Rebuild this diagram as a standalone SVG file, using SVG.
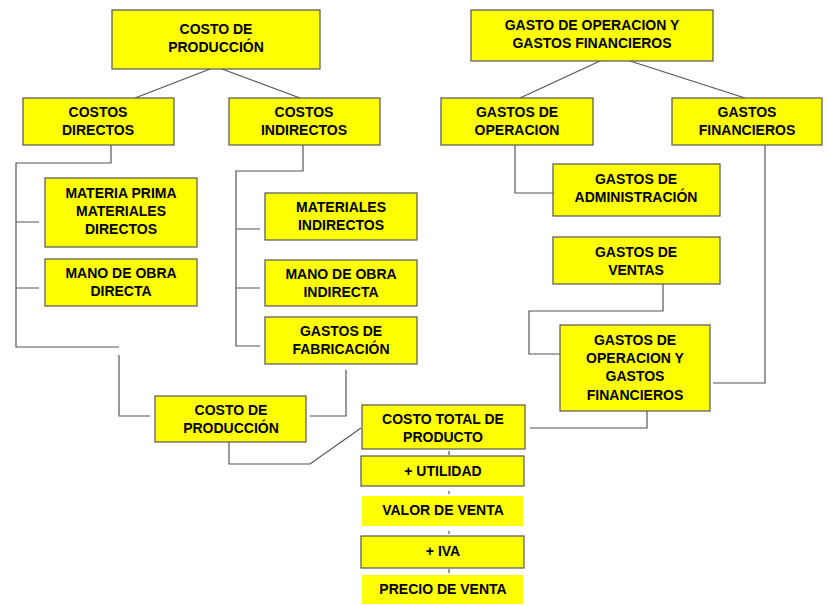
<svg xmlns="http://www.w3.org/2000/svg" width="828" height="605" viewBox="0 0 828 605">
<style>
.b{fill:#ffff00;stroke:#555;stroke-width:1.2}
.n{fill:#ffff00}
text{font-family:"Liberation Sans",Arial,sans-serif;font-weight:bold;font-size:14px;text-anchor:middle;fill:#000}
#c path{fill:none;stroke:#555;stroke-width:1.2}
</style>
<rect width="828" height="605" fill="#fff"/>
<g id="c">
<path d="M210 69L135 98M222 69L300 98M600 61L520 98M630 61L745 98"/>
<path d="M111 145V163H16V347H119M16 222H39M16 288H39M119 355V416H150"/>
<path d="M303 145V171H236V346H260M236 229H260M236 288H260"/>
<path d="M346 370V416H310"/>
<path d="M229 442V464H310L361 428"/>
<path d="M515 145V193H553"/>
<path d="M663 284V311H529V354H560"/>
<path d="M765 145V383H713"/>
<path d="M647 411V428H530"/>
<path d="M449 451V455M449 491V494M449 531V534M449 569V573"/>
</g>
<g id="n1"><rect class="b" x="112" y="10" width="208" height="59"/><text x="216" y="34">COSTO DE</text><text x="216" y="52">PRODUCCIÓN</text></g>
<g id="n2"><rect class="b" x="471" y="10" width="242" height="51"/><text x="592" y="30">GASTO DE OPERACION Y</text><text x="592" y="48">GASTOS FINANCIEROS</text></g>
<g id="n3"><rect class="b" x="23" y="98" width="151" height="47"/><text x="98" y="117">COSTOS</text><text x="98" y="135">DIRECTOS</text></g>
<g id="n4"><rect class="b" x="229" y="98" width="151" height="47"/><text x="304" y="117">COSTOS</text><text x="304" y="135">INDIRECTOS</text></g>
<g id="n5"><rect class="b" x="441" y="98" width="152" height="47"/><text x="517" y="117">GASTOS DE</text><text x="517" y="135">OPERACION</text></g>
<g id="n6"><rect class="b" x="672" y="98" width="150" height="47"/><text x="747" y="117">GASTOS</text><text x="747" y="135">FINANCIEROS</text></g>
<g id="n7"><rect class="b" x="45" y="178" width="152" height="69"/><text x="121" y="198">MATERIA PRIMA</text><text x="121" y="216">MATERIALES</text><text x="121" y="234">DIRECTOS</text></g>
<g id="n8"><rect class="b" x="45" y="259" width="152" height="47"/><text x="121" y="278">MANO DE OBRA</text><text x="121" y="296">DIRECTA</text></g>
<g id="n9"><rect class="b" x="265" y="193" width="152" height="47"/><text x="341" y="212">MATERIALES</text><text x="341" y="230">INDIRECTOS</text></g>
<g id="n10"><rect class="b" x="265" y="260" width="152" height="46"/><text x="341" y="279">MANO DE OBRA</text><text x="341" y="297">INDIRECTA</text></g>
<g id="n11"><rect class="b" x="265" y="317" width="152" height="47"/><text x="341" y="336">GASTOS DE</text><text x="341" y="354">FABRICACIÓN</text></g>
<g id="n12"><rect class="b" x="553" y="164" width="167" height="52"/><text x="636" y="184">GASTOS DE</text><text x="636" y="202">ADMINISTRACIÓN</text></g>
<g id="n13"><rect class="b" x="553" y="237" width="167" height="47"/><text x="636" y="257">GASTOS DE</text><text x="636" y="275">VENTAS</text></g>
<g id="n14"><rect class="b" x="560" y="325" width="150" height="86"/><text x="635" y="345">GASTOS DE</text><text x="635" y="363">OPERACION Y</text><text x="635" y="381">GASTOS</text><text x="635" y="400">FINANCIEROS</text></g>
<g id="n15"><rect class="b" x="155" y="396" width="151" height="46"/><text x="231" y="415">COSTO DE</text><text x="231" y="433">PRODUCCIÓN</text></g>
<g id="n16"><rect class="b" x="362" y="405" width="163" height="44"/><text x="443" y="424">COSTO TOTAL DE</text><text x="443" y="442">PRODUCTO</text></g>
<g id="n17"><rect class="b" x="361" y="456" width="163" height="30"/><text x="443" y="476">+ UTILIDAD</text></g>
<g id="n18"><rect class="n" x="362" y="496" width="161" height="30"/><text x="443" y="515">VALOR DE VENTA</text></g>
<g id="n19"><rect class="b" x="361" y="536" width="163" height="32"/><text x="443" y="556">+ IVA</text></g>
<g id="n20"><rect class="n" x="362" y="575" width="161" height="29"/><text x="443" y="594">PRECIO DE VENTA</text></g>
</svg>
